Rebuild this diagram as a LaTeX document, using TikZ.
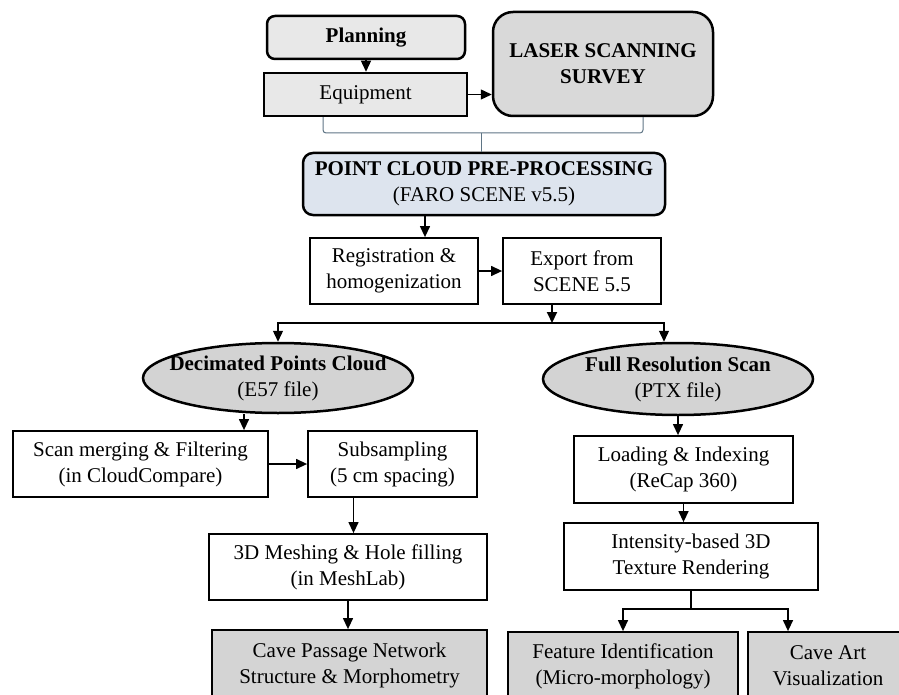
\documentclass[tikz,border=0pt]{standalone}
\usepackage{fontspec}
\setmainfont{Liberation Serif}
\usepackage{tikz}
\usetikzlibrary{arrows.meta,shapes.geometric}

\definecolor{lightgrey}{HTML}{E8E8E8}
\definecolor{midgrey}{HTML}{D9D9D9}
\definecolor{ovalgrey}{HTML}{D3D3D3}
\definecolor{outgrey}{HTML}{D4D4D4}
\definecolor{paleblue}{HTML}{DDE4EE}
\definecolor{bracecol}{HTML}{5F7585}

\begin{document}
\begin{tikzpicture}[x=1pt,y=-1pt,->,>={Triangle[length=11pt,width=10pt]},line width=1.3pt,
    font=\fontsize{21}{26}\selectfont,
    base box/.style={draw,rectangle,align=center,inner sep=0pt,line width=1.8pt,fill=white},
    top box/.style={base box,line width=2.5pt,fill=lightgrey},
    out box/.style={base box,fill=outgrey},
    oval/.style={draw,ellipse,inner sep=0pt,line width=2.5pt,fill=ovalgrey,minimum width=270pt},
    brace line/.style={-,draw=bracecol,line width=1pt,rounded corners=3pt}]

  \useasboundingbox (0,0) rectangle (899,695);
  \clip (0,0) rectangle (899,695);

  \node[top box,rounded corners=8pt,minimum width=198pt,minimum height=43pt] (plan) at (366,37.5) {\textbf{Planning}};
  \node[top box,minimum width=203pt,minimum height=43pt] (equip) at (365.5,94.5) {Equipment};
  \node[top box,fill=midgrey,rounded corners=20pt,minimum width=220pt,minimum height=104pt] (laser) at (603,64) {\textbf{LASER SCANNING}\\\textbf{SURVEY}};
  \node[top box,fill=paleblue,rounded corners=10pt,minimum width=362pt,minimum height=62pt] (pcp) at (484,184) {\textbf{POINT CLOUD PRE-PROCESSING}\\(FARO SCENE v5.5)};

  \node[base box,minimum width=168pt,minimum height=66pt] (reg) at (394,271) {Registration \&\\homogenization};
  \node[base box,minimum width=158pt,minimum height=66pt] (export) at (582,271) {Export from\\SCENE 5.5};

  \node[oval,minimum height=70pt,label={[align=center]center:{\textbf{Decimated Points Cloud}\\(E57 file)}}] (dec) at (278,378) {};
  \node[oval,minimum height=72pt,label={[align=center]center:{\textbf{Full Resolution Scan}\\(PTX file)}}] (full) at (678,379) {};

  \node[base box,minimum width=255pt,minimum height=66pt] (scan) at (140.5,464) {Scan merging \& Filtering\\(in CloudCompare)};
  \node[base box,minimum width=169pt,minimum height=66pt] (sub) at (392.5,464) {Subsampling\\(5 cm spacing)};
  \node[base box,minimum width=278pt,minimum height=66pt] (mesh) at (348,567) {3D Meshing \& Hole filling\\(in MeshLab)};
  \node[out box,minimum width=275pt,minimum height=70pt] (cave) at (349.5,665) {Cave Passage Network\\Structure \& Morphometry};

  \node[base box,minimum width=219pt,minimum height=67pt] (load) at (683.5,469.5) {Loading \& Indexing\\(ReCap 360)};
  \node[base box,minimum width=254pt,minimum height=67pt] (inten) at (691,556.5) {Intensity-based 3D\\Texture Rendering};
  \node[out box,minimum width=230pt,minimum height=68pt] (feat) at (623,666) {Feature Identification\\(Micro-morphology)};
  \node[out box,minimum width=160pt,minimum height=68pt] (art) at (828,666) {Cave Art\\Visualization};

  \coordinate (join) at (481,133);
  \coordinate (split) at (552,323);
  \coordinate (split2) at (691,609);

  % bracket joining the two top boxes
  \draw[brace line] ([xshift=-42.5pt]equip.south) |- (join) -| ([xshift=40pt]laser.south);
  \draw[brace line] (join) -- (join |- pcp.north);

  \path (plan.south) edge (plan.south |- equip.north)
        (equip.east) edge (equip.east -| laser.west)
        ([xshift=-59pt]pcp.south) edge ([xshift=-59pt]pcp.south |- reg.north)
        (reg) edge (export)
        ([xshift=-30pt]export.south) edge[line width=2pt] (split)
        ([xshift=-34pt]dec.south) edge ([xshift=-34pt]dec.south |- scan.north)
        (scan) edge (sub)
        ([xshift=-39pt]sub.south) edge ([xshift=-39pt]sub.south |- mesh.north)
        (mesh.south) edge (mesh.south |- cave.north)
        (full.south) edge (full.south |- load.north)
        (load.south) edge (load.south |- inten.north);

  \draw (split) -| (dec.north);
  \draw (split) -| ([xshift=-14pt]full.north);
  \draw[-] (inten.south) -- (split2);
  \draw (split2) -| (feat.north);
  \draw (split2) -| ([xshift=-40pt]art.north);

\end{tikzpicture}
\end{document}
